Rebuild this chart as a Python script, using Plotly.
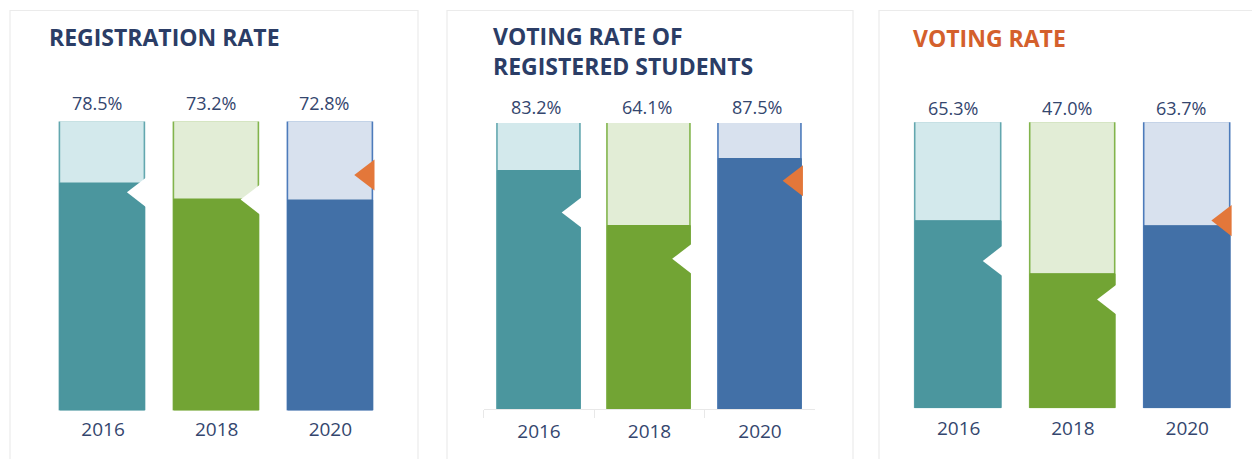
import plotly.graph_objects as go

# ---------------- data ----------------
years = ["2016", "2018", "2020"]
full_scale = [100, 100, 100]

registration_rate = [78.5, 73.2, 72.8]
registration_benchmark = [75.5, 73.0, 81.5]

voting_rate_registered = [83.2, 64.1, 87.5]
voting_rate_registered_benchmark = [68.7, 52.5, 79.8]

voting_rate = [65.3, 47.0, 63.7]
voting_rate_benchmark = [51.5, 38.0, 65.6]

panel_titles = ["REGISTRATION RATE", "VOTING RATE OF<br>REGISTERED STUDENTS", "VOTING RATE"]

# ---------------- styles ----------------
W, H = 1252, 459
dark = ["#4b969e", "#72a434", "#4270a7"]
light = ["#d3e9ec", "#e2edd6", "#d8e1ee"]
edge = ["#63a7af", "#82b44c", "#4d7bbb"]
marker_cols = ["#ffffff", "#ffffff", "#e3773a"]
navy = "#2b3d66"
tick_col = "#34466e"
orange_title = "#d4602c"
FONT = "Open Sans"

def fx(px):
    return px / W

def fy(px):
    return 1 - px / H

# per-panel pixel geometry: (x domain left, x domain right, y of 0, y of 100)
geom = [
    (46.2, 387.2, 410.7, 121.5),
    (483.75, 815.25, 409.0, 123.0),
    (901.5, 1244.4, 408.3, 122.2),
]
label_xshift = [-6, -3, -6]
label_yshift = [4, 2, 0]
tick_standoff = [5, 5, 7]
title_pos = [(47, 37, 23), (491, 51, 23), (911, 38, 23)]
title_cols = [navy, navy, orange_title]

panels = [
    (registration_rate, registration_benchmark),
    (voting_rate_registered, voting_rate_registered_benchmark),
    (voting_rate, voting_rate_benchmark),
]

fig = go.Figure()
bar_w = 0.75
tri_size = 27

for p, (vals, bench) in enumerate(panels):
    xa = f"x{p + 1}" if p else "x"
    ya = f"y{p + 1}" if p else "y"
    xo = f"x{p + 4}"
    # background (full) bars
    fig.add_trace(go.Bar(
        x=years, y=full_scale, xaxis=xa, yaxis=ya, width=bar_w,
        marker=dict(color=light, line=dict(color=edge, width=1.6)),
        hoverinfo="skip", showlegend=False,
    ))
    # value bars
    fig.add_trace(go.Bar(
        x=years, y=vals, xaxis=xa, yaxis=ya, width=bar_w,
        marker=dict(color=dark, line=dict(color=dark, width=1.0)),
        showlegend=False,
    ))
    # benchmark triangles on overlay linear axis
    x0, x1, _, _ = geom[p]
    px_per_unit = (x1 - x0) / 3.0
    offset = bar_w / 2 - (tri_size / 4 - 1.5) / px_per_unit
    fig.add_trace(go.Scatter(
        x=[i + offset for i in range(len(years))], y=bench,
        xaxis=xo, yaxis=ya, mode="markers",
        marker=dict(symbol="triangle-left", size=tri_size, color=marker_cols,
                    line=dict(width=0)),
        showlegend=False, hoverinfo="y",
    ))
    # value labels (category index positions)
    for i, v in enumerate(vals):
        fig.add_annotation(
            x=i, y=100, xref=xa, yref=ya, text=f"{v:.1f}%",
            showarrow=False, yanchor="bottom", xanchor="center",
            xshift=label_xshift[p], yshift=label_yshift[p],
            font=dict(family=FONT, size=18, color=tick_col),
        )
    # titles
    tx, ty, ts = title_pos[p]
    fig.add_annotation(
        x=fx(tx), y=fy(ty), xref="paper", yref="paper", text=panel_titles[p],
        showarrow=False, xanchor="left", yanchor="middle", align="left",
        font=dict(family=FONT, size=ts, color=title_cols[p], weight="bold"),
    )

layout = dict(
    width=W, height=H, margin=dict(l=0, r=0, t=0, b=0),
    paper_bgcolor="white", plot_bgcolor="rgba(0,0,0,0)",
    barmode="overlay", bargap=0,
    font=dict(family=FONT, color=tick_col),
)

for p in range(3):
    x0, x1, y0, y100 = geom[p]
    k = p + 1
    xname = "xaxis" if p == 0 else f"xaxis{k}"
    yname = "yaxis" if p == 0 else f"yaxis{k}"
    ya = "y" if p == 0 else f"y{k}"
    show_axis = (p == 1)
    layout[xname] = dict(
        type="category", categoryorder="array", categoryarray=years,
        range=[-0.5, 2.5], domain=[fx(x0), fx(x1)], anchor=ya,
        showgrid=False, zeroline=False,
        showline=show_axis, linecolor="#e8e8e8", linewidth=1,
        ticks="outside", tickson="boundaries", ticklen=8,
        tickcolor="#e8e8e8" if show_axis else "rgba(0,0,0,0)",
        tickfont=dict(family=FONT, size=19, color=tick_col),
        ticklabelstandoff=tick_standoff[p],
        fixedrange=True,
    )
    layout[f"xaxis{p + 4}"] = dict(
        type="linear", range=[-0.5, 2.5], overlaying="x" if p == 0 else f"x{k}",
        anchor=ya, visible=False, fixedrange=True,
    )
    layout[yname] = dict(
        range=[0, 100], domain=[fy(y0), fy(y100)], anchor="x" if p == 0 else f"x{k}",
        visible=False, fixedrange=True,
    )

# light panel frames
frames = [(10, 418), (447, 853), (879, 1262)]
for (l, r) in frames:
    fig.add_shape(type="rect", xref="paper", yref="paper",
                  x0=fx(l), x1=fx(r), y0=fy(470), y1=fy(10.5),
                  line=dict(color="#ebebeb", width=1.2), fillcolor="rgba(0,0,0,0)",
                  layer="below")

fig.update_layout(**layout)
fig.write_html("out.html", post_script="document.body.style.margin='0';",
               config={"displayModeBar": False})
